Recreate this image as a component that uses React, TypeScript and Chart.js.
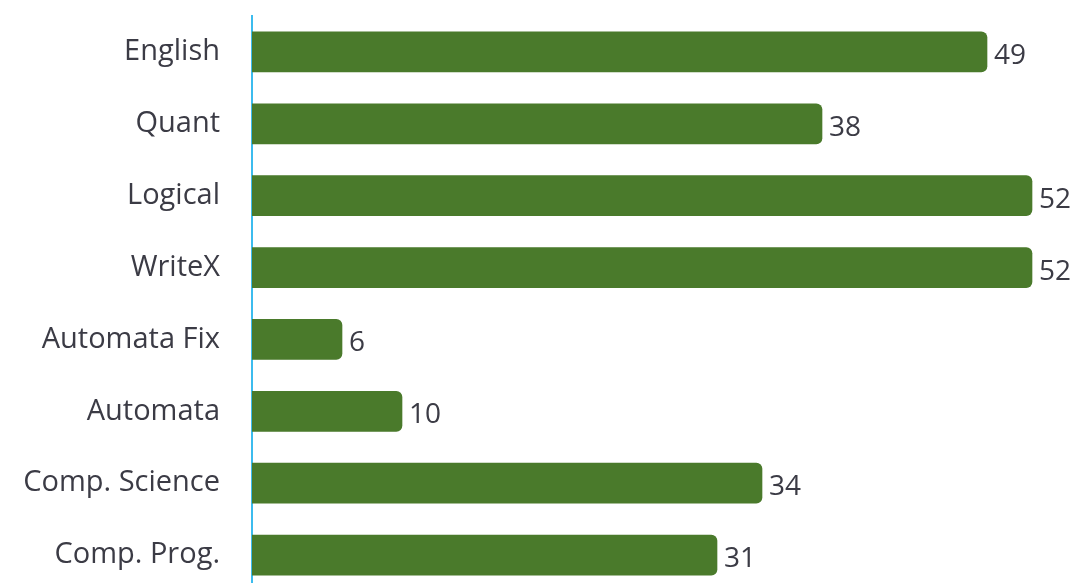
import React, { useEffect, useRef } from "react";
import { Chart, registerables } from "chart.js";

Chart.register(...registerables);

const categories = ["English", "Quant", "Logical", "WriteX", "Automata Fix", "Automata", "Comp. Science", "Comp. Prog."];
const scores = [49, 38, 52, 52, 6, 10, 34, 31];

const FONT = "'Open Sans', 'Noto Sans', sans-serif";
const TEXT_COLOR = "#3b3b45";

const valueLabels = {
  id: "valueLabels",
  afterDatasetsDraw(chart: any) {
    const ctx = chart.ctx;
    const meta = chart.getDatasetMeta(0);
    ctx.save();
    ctx.font = `28px ${FONT}`;
    ctx.fillStyle = TEXT_COLOR;
    ctx.textAlign = "left";
    ctx.textBaseline = "middle";
    meta.data.forEach((bar: any, i: number) => {
      ctx.fillText(String(scores[i]), bar.x + 7, bar.y + 4);
    });
    ctx.restore();
  },
};

export default function App() {
  const ref = useRef<HTMLCanvasElement>(null);
  useEffect(() => {
    document.body.style.margin = "0";
    document.body.style.overflow = "hidden";
    const chart = new Chart(ref.current!, {
      type: "bar",
      data: {
        labels: categories,
        datasets: [
          {
            data: scores,
            backgroundColor: "#4a7a2b",
            borderRadius: 6,
            borderSkipped: "start",
            barThickness: 40,
          },
        ],
      },
      options: {
        indexAxis: "y",
        animation: false,
        responsive: false,
        maintainAspectRatio: false,
        layout: { padding: { top: 16, right: 8, bottom: 0, left: 0 } },
        plugins: { legend: { display: false }, tooltip: { enabled: false } },
        scales: {
          x: { display: false, min: 0, max: 55 },
          y: {
            grid: { display: false, drawTicks: false },
            border: { display: true, color: "#3cbcee", width: 2 },
            ticks: { font: { family: FONT, size: 29 }, color: TEXT_COLOR, padding: 32 },
            afterFit(scale: any) {
              scale.width = 252;
              scale.paddingTop = 0;
              scale.paddingBottom = 0;
            },
          },
        },
      },
      plugins: [valueLabels],
    });
    return () => chart.destroy();
  }, []);
  return (
    <div style={{ width: 1085, height: 591, background: "#fff" }}>
      <canvas ref={ref} width={1085} height={591} style={{ display: "block" }} />
    </div>
  );
}
